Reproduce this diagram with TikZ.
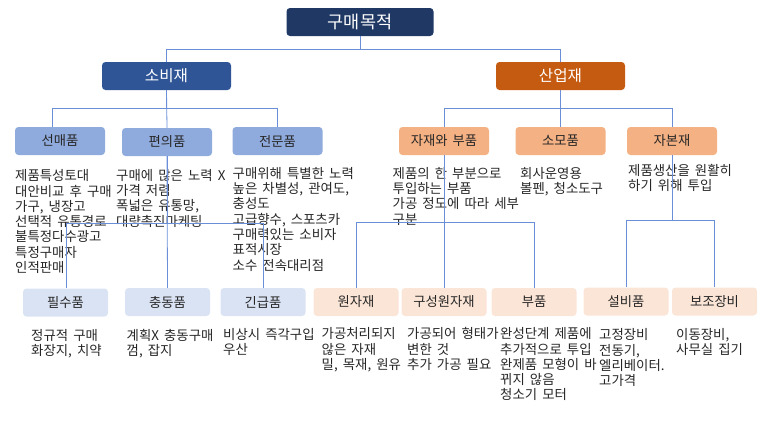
\documentclass[tikz,border=0pt]{standalone}
\usepackage{fontspec}
\setmainfont[WordSpace=1.7]{Noto Sans CJK KR}
\definecolor{topnavy}{HTML}{1F3864}
\definecolor{consblue}{HTML}{2F5597}
\definecolor{indorange}{HTML}{C55A11}
\definecolor{midblue}{HTML}{8FAADC}
\definecolor{midorange}{HTML}{F4B183}
\definecolor{paleblue}{HTML}{DAE3F3}
\definecolor{paleorange}{HTML}{FBE5D6}
\definecolor{linkblue}{HTML}{6A8FD8}
\definecolor{textgray}{HTML}{262626}
\begin{document}
\begin{tikzpicture}[x=1pt,y=-1pt,
    box/.style={rounded corners=3.5pt,inner sep=0pt,minimum height=28pt},
    desc/.style={anchor=north west,align=left,inner sep=0pt,text=textgray,font=\fontsize{13.4}{15.3}\selectfont},
    conn/.style={draw=linkblue,line width=0.8pt}]
    \useasboundingbox (0,0) rectangle (770,421);
    \node[box,fill=topnavy,text=white,minimum width=147pt,font=\fontsize{17.5}{19}\selectfont] (goal) at (360,22) {구매목적};
    \begin{scope}[every node/.style={box,minimum width=129pt,text=white,font=\fontsize{15.6}{17}\selectfont}]
        \node[fill=consblue] (cons) at (166.5,76) {소비재};
        \node[fill=indorange] (ind) at (560.5,76) {산업재};
    \end{scope}
    \begin{scope}[every node/.style={box,minimum width=90pt,text=textgray,font=\fontsize{13.3}{15}\selectfont}]
        \node[fill=midblue] (shop) at (60,141) {선매품};
        \node[fill=midblue] (conv) at (167,142) {편의품};
        \node[fill=midblue] (spec) at (277.5,141) {전문품};
        \node[fill=midorange] (mat) at (444,141) {자재와 부품};
        \node[fill=midorange] (supp) at (560.5,141) {소모품};
        \node[fill=midorange] (cap) at (672,141) {자본재};
    \end{scope}
    \begin{scope}[every node/.style={box,minimum width=85pt,text=textgray,font=\fontsize{13.3}{15}\selectfont}]
        \node[fill=paleblue] (stap) at (65.5,302.5) {필수품};
        \node[fill=paleblue] (impu) at (167.5,302) {충동품};
        \node[fill=paleblue] (emer) at (263,302) {긴급품};
        \node[fill=paleorange] (raw) at (356,302) {원자재};
        \node[fill=paleorange] (comp) at (444,302) {구성원자재};
        \node[fill=paleorange] (part) at (534,302) {부품};
        \node[fill=paleorange] (inst) at (626,301.5) {설비품};
        \node[fill=paleorange] (acc) at (714.5,301.5) {보조장비};
    \end{scope}
    \begin{scope}[every node/.style={desc}]
        \node (shopT) at (15,169.5) {제품특성토대\\대안비교 후 구매\\가구, 냉장고\\선택적 유통경로\\불특정다수광고\\특정구매자\\인적판매};
        \node (convT) at (116,169) {구매에 많은 노력 X\\가격 저렴\\폭넓은 유통망,\\대량촉진마케팅};
        \node (specT) at (232.5,167) {구매위해 특별한 노력\\높은 차별성, 관여도,\\충성도\\고급향수, 스포츠카\\구매력있는 소비자\\표적시장\\소수 전속대리점};
        \node (matT) at (392.5,167) {제품의 한 부분으로\\투입하는 부품\\가공 정도에 따라 세부\\구분};
        \node (suppT) at (520,167) {회사운영용\\볼펜, 청소도구};
        \node (capT) at (628,164) {제품생산을 원활히\\하기 위해 투입};
        \node (stapT) at (31,329) {정규적 구매\\화장지, 치약};
        \node (impuT) at (126.5,329) {계획X 충동구매\\껌, 잡지};
        \node (emerT) at (223,328) {비상시 즉각구입\\우산};
        \node (rawT) at (321.5,327.5) {가공처리되지\\않은 자재\\밀, 목재, 원유};
        \node (compT) at (407,327.5) {가공되어 형태가\\변한 것\\추가 가공 필요};
        \node (partT) at (500,327.5) {완성단계 제품에\\추가적으로 투입\\완제품 모형이 바\\뀌지 않음\\청소기 모터};
        \node (instT) at (599,328.5) {고정장비\\전동기,\\엘리베이터.\\고가격};
        \node (accT) at (676,328) {이동장비,\\사무실 집기};
    \end{scope}
    \draw[conn] (goal.south) -- ++(0,13) -| (cons.north);
    \draw[conn] (goal.south) -- ++(0,13) -| (ind.north);
    \draw[conn] (cons.south) -- ++(0,18) -| ([xshift=-8pt]shop.north);
    \draw[conn] (cons.south) -- (conv.north);
    \draw[conn] (cons.south) -- ++(0,18) -| (spec.north);
    \draw[conn] (ind.south) -- ++(0,18) -| (mat.north);
    \draw[conn] (ind.south) -- (supp.north);
    \draw[conn] (ind.south) -- ++(0,18) -| (cap.north);
    \draw[conn] (conv.south) -- ++(0,67) -| ([xshift=1pt]stap.north);
    \draw[conn] (conv.south) -- (impu.north);
    \draw[conn] (conv.south) -- ++(0,67) -| (emer.north);
    \draw[conn] (mat.south) -- ++(0,67) -| (raw.north);
    \draw[conn] (mat.south) -- (comp.north);
    \draw[conn] (mat.south) -- ++(0,67) -| (part.north);
    \draw[conn] (cap.south) -- ++(0,65) -| (inst.north);
    \draw[conn] (cap.south) -- ++(0,65) -| (acc.north);
\end{tikzpicture}
\end{document}
